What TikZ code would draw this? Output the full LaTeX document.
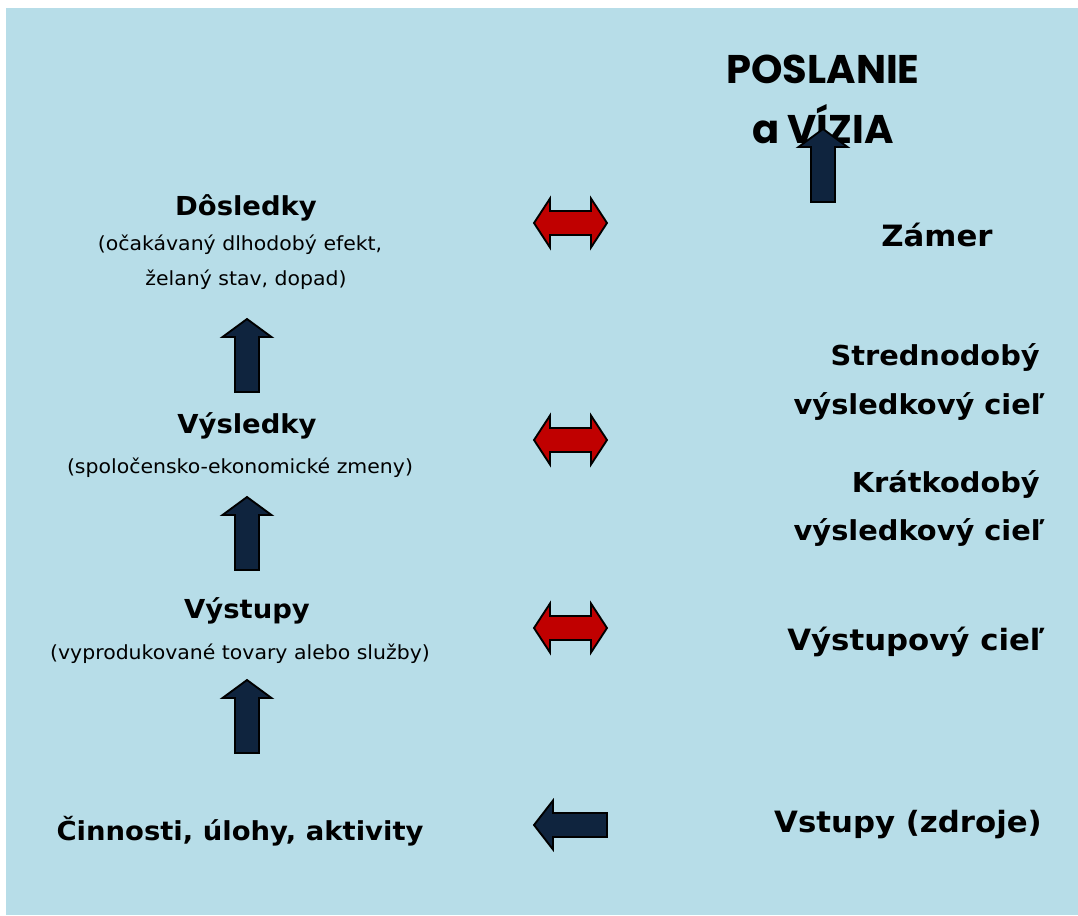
\documentclass[tikz,border=0pt]{standalone}
\usepackage{fontspec}
\setmainfont{DejaVu Sans}[FakeStretch=1.05]
\newfontfamily\visionfont{Poppins}
\definecolor{slidebg}{RGB}{183,221,232}
\definecolor{navyfill}{RGB}{15,36,62}
\definecolor{redfill}{RGB}{192,0,0}

\begin{document}
\begin{tikzpicture}[x=0.75pt,y=-0.75pt,
  lefthead/.style={anchor=base,inner sep=0pt,font=\fontsize{19.6}{23}\selectfont\bfseries},
  leftnote/.style={anchor=base,inner sep=0pt,font=\fontsize{14.6}{17}\selectfont},
  righttext/.style={anchor=base,inner sep=0pt,font=\fontsize{22}{26}\selectfont\bfseries},
  goaltext/.style={anchor=base east,inner sep=0pt,font=\fontsize{20.6}{24}\selectfont\bfseries},
  visiontext/.style={anchor=base,inner sep=0pt,font=\visionfont\fontsize{30}{35}\selectfont\bfseries},
  blockarrow/.style={draw=black,line width=1.4pt,line join=miter}]
\useasboundingbox (0,0) rectangle (1078,915);
\fill[slidebg] (6,8) rectangle (1078,915);

% lava strana: retazec vysledkov
\node[lefthead] (dosledky) at (246,215) {Dôsledky};
\node[leftnote] (dosledkyA) at (240,250) {(očakávaný dlhodobý efekt,};
\node[leftnote] (dosledkyB) at (246,285) {želaný stav, dopad)};
\node[lefthead] (vysledky) at (247,433) {Výsledky};
\node[leftnote] (vysledkyA) at (240,473) {(spoločensko-ekonomické zmeny)};
\node[lefthead] (vystupy) at (247,618) {Výstupy};
\node[leftnote] (vystupyA) at (240,659) {(vyprodukované tovary alebo služby)};
\node[lefthead] (cinnosti) at (240,840) {Činnosti, úlohy, aktivity};

% prava strana: ciele
\node[visiontext] (poslanie) at (823,83) {POSLANIE};
\node[visiontext] (vizia) at (823,143) {a VÍZIA};
\node[righttext] (zamer) at (937,246) {Zámer};
\node[goaltext] (strednodoby) at (1040,365) {Strednodobý};
\node[goaltext] (strednodobyB) at (1045,414) {výsledkový cieľ};
\node[goaltext] (kratkodoby) at (1040,492) {Krátkodobý};
\node[goaltext] (kratkodobyB) at (1045,540) {výsledkový cieľ};
\node[righttext] (vystupovy) at (916,650) {Výstupový cieľ};
\node[righttext] (vstupy) at (908,832) {Vstupy (zdroje)};

% sipky hore
\foreach \x/\y in {247/319,247/497,247/680,823/129}
\draw[blockarrow,fill=navyfill,shift={(\x,\y)}] (0,0) -- (24.5,18) -- (12,18) -- (12,73) -- (-12,73) -- (-12,18) -- (-24.5,18) -- cycle;

% obojstranne sipky
\foreach \y in {223,440,628}
\draw[blockarrow,fill=redfill,shift={(534,\y)}] (0,0) -- (16,-24.5) -- (16,-12) -- (57,-12) -- (57,-24.5) -- (73,0) -- (57,24.5) -- (57,12) -- (16,12) -- (16,24.5) -- cycle;

% sipka vlavo
\draw[blockarrow,fill=navyfill,shift={(534,825)}] (0,0) -- (19,-24.5) -- (19,-12) -- (73,-12) -- (73,12) -- (19,12) -- (19,24.5) -- cycle;
\end{tikzpicture}
\end{document}
